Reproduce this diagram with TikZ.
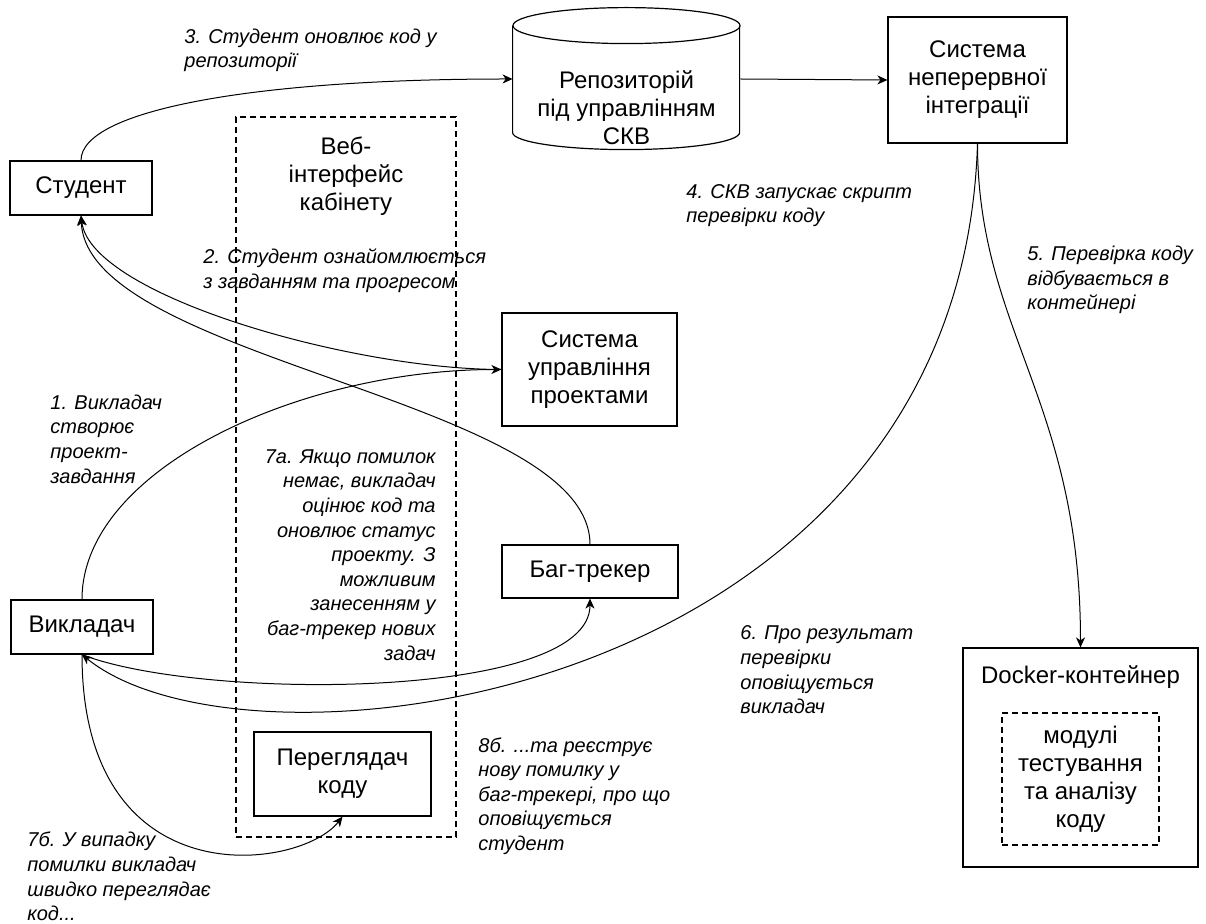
\documentclass[tikz,border=0pt]{standalone}
\usepackage{fontspec}
\setmainfont{Liberation Sans}
\usetikzlibrary{arrows.meta}

\begin{document}
\begin{tikzpicture}[
    x=0.5pt, y=-0.5pt,
    >={Stealth[length=5pt,width=4.5pt,inset=1.5pt]},
    conn/.style={->, line width=0.5pt},
    box/.style={draw, line width=0.6pt, align=center, inner sep=0pt, font=\fontsize{12}{14}\selectfont},
    dashbox/.style={box, dash pattern=on 3pt off 2pt},
    boxtext/.style={align=center, inner sep=0pt, font=\fontsize{12}{14}\selectfont},
    lbl/.style={align=left, inner sep=0pt, font=\fontsize{10}{12.3}\selectfont\itshape}
    ]

    \useasboundingbox (0,0) rectangle (1206,924);

    % web cabinet container
    \node[dashbox, minimum width=110pt, minimum height=360pt] (web) at (346,477) {};
    \node[boxtext] (webtitle) at (346,176) {Веб-\\інтерфейс\\кабінету};

    % repository (cylinder drawn by hand round an empty node)
    \node[minimum width=113.5pt, minimum height=71pt, inner sep=0pt] (repo) at (626.5,79) {};
    \draw[line width=0.6pt] (repo.north west) ++(0,18) -- ++(0,107)
        arc[start angle=180, end angle=360, x radius=56.75pt, y radius=8.5pt] -- ++(0,-107);
    \draw[line width=0.6pt] (repo.north) ++(0,18) ellipse [x radius=56.75pt, y radius=9pt];
    \node[boxtext] (repotext) at (626.5,108) {Репозиторій\\під управлінням\\СКВ};

    \node[box, minimum width=71pt, minimum height=27pt] (stud) at (81,188) {Студент};
    \node[box, minimum width=89.5pt, minimum height=63pt] (ci) at (977.5,80) {Система\\неперервної\\інтеграції};
    \node[box, minimum width=87.5pt, minimum height=56.5pt] (pms) at (589.5,369.5) {Система\\управління\\проектами};
    \node[box, minimum width=88pt, minimum height=26.5pt] (bug) at (590,571.5) {Баг-трекер};
    \node[box, minimum width=71pt, minimum height=27pt] (teach) at (82,627) {Викладач};
    \node[box, minimum width=88.5pt, minimum height=42pt] (viewer) at (342.5,774) {Переглядач\\коду};

    % docker container with the test modules
    \node[box, minimum width=117.5pt, minimum height=109.5pt] (docker) at (1080.5,757.5) {};
    \node[boxtext] (dockertitle) at (1080.5,677) {Docker-контейнер};
    \node[dashbox, minimum width=78.5pt, minimum height=66pt] (modules) at (1080.5,779) {модулі\\тестування\\та аналізу\\коду};

    % connectors
    \draw[conn] (stud.north) .. controls +(0,-50) and +(-260,0) .. (repo.west);
    \draw[conn] (repo.east) -- (ci.west);
    \draw[conn] (teach.north) .. controls +(0,-130) and +(-202,0) .. (pms.west);
    \draw[conn] (pms.west) .. controls +(-150,0) and +(10,80) .. (stud.south);
    \draw[conn] (bug.north) .. controls +(0,-145) and +(6,145) .. (stud.south);
    \draw[conn] (ci.south) .. controls +(0,187) and +(0,-248) .. (docker.north);
    \draw[conn] (ci.south) .. controls +(-17,557) and +(168,136) .. (teach.south);
    \draw[conn] (teach.south) .. controls +(118,46) and +(0,102) .. (bug.south);
    \draw[conn] (teach.south) .. controls +(0,246) and +(-42,54) .. (viewer.south);

    % step labels
    \node[lbl, anchor=west] (l1) at (50,439) {1. Викладач\\створює\\проект-\\завдання};
    \node[lbl, anchor=west] (l2) at (203,270.5) {2. Студент ознайомлюється\\з завданням та прогресом};
    \node[lbl, anchor=west] (l3) at (184,50.5) {3. Студент оновлює код у\\репозиторії};
    \node[lbl, anchor=west] (l4) at (686,205.5) {4. СКВ запускає скрипт\\перевірки коду};
    \node[lbl, anchor=west] (l5) at (1027,280) {5. Перевірка коду\\відбувається в\\контейнері};
    \node[lbl, anchor=west] (l6) at (740,670) {6. Про результат\\перевірки\\оповіщується\\викладач};
    \node[lbl, align=right, anchor=east] (l7a) at (436,555) {7а. Якщо помилок\\немає, викладач\\оцінює код та\\оновлює статус\\проекту. З\\можливим\\занесенням у\\баг-трекер нових\\задач};
    \node[lbl, anchor=west] (l7b) at (27,876.5) {7б. У випадку\\помилки викладач\\швидко переглядає\\код...};
    \node[lbl, anchor=west] (l8b) at (478,796) {8б. ...та реєструє\\нову помилку у\\баг-трекері, про що\\оповіщується\\студент};

\end{tikzpicture}
\end{document}
